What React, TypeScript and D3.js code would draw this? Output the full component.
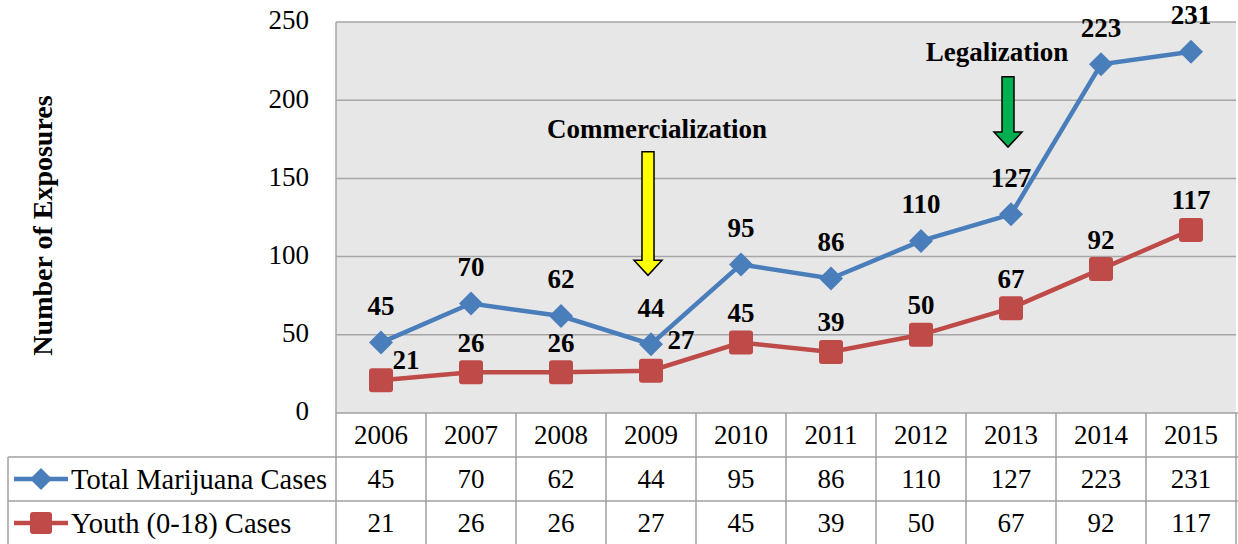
import { useMemo } from 'react'
import * as d3 from 'd3'

const years = ['2006', '2007', '2008', '2009', '2010', '2011', '2012', '2013', '2014', '2015']
const totalCases = [45, 70, 62, 44, 95, 86, 110, 127, 223, 231]
const youthCases = [21, 26, 26, 27, 45, 39, 50, 67, 92, 117]
const yTicks = [0, 50, 100, 150, 200, 250]
const seriesNames = ['Total Marijuana Cases', 'Youth (0-18) Cases']

// annotation arrows, in data units: arrow top, arrow tip, label centre
const annotations = [
	{ label: 'Commercialization', year: '2009', top: 167, tip: 88, text: 182, fill: '#ffff00' },
	{ label: 'Legalization', year: '2013', top: 215, tip: 170, text: 231, fill: '#00b050' },
]

const W = 1238
const H = 544
const margin = { top: 22, left: 336, right: 2, bottom: 131 }
const rowH = 44
const FONT = "'Liberation Serif', 'DejaVu Serif', serif"
const BLUE = '#4a7ebb'
const RED = '#be4b48'

function Diamond({ cx, cy, r = 12, fill }) {
	return <path d={`M${cx},${cy - r}L${cx + r},${cy}L${cx},${cy + r}L${cx - r},${cy}Z`} fill={fill} />
}

function Square({ cx, cy, s = 24, fill }) {
	return <rect x={cx - s / 2} y={cy - s / 2} width={s} height={s} rx={3} fill={fill} />
}

export default function App() {
	const plotBottom = H - margin.bottom
	const x = useMemo(() => d3.scaleBand(years, [margin.left, W - margin.right]), [])
	const y = useMemo(() => d3.scaleLinear([0, 250], [plotBottom, margin.top]), [])
	const cx = (yr) => x(yr) + x.bandwidth() / 2

	const line = d3.line().x((d, i) => cx(years[i])).y((d) => y(d))

	const tableTop = plotBottom
	const rows = [tableTop, tableTop + rowH, tableTop + 2 * rowH, tableTop + 3 * rowH]

	return (
		<svg width={W} height={H} style={{ position: 'absolute', left: 0, top: 0, background: '#fff', fontFamily: FONT }}>
			{/* plot area */}
			<rect x={margin.left} y={margin.top} width={W - margin.right - margin.left} height={plotBottom - margin.top} fill="#e7e7e7" />
			<g stroke="#a6a6a6" strokeWidth={1.5}>
				{yTicks.filter((t) => t > 0).map((t) => (
					<line key={t} x1={margin.left} x2={W - margin.right} y1={y(t)} y2={y(t)} />
				))}
				<line x1={margin.left} x2={margin.left} y1={margin.top} y2={plotBottom} />
			</g>
			<g style={{ fontSize: 27 }} textAnchor="end" fill="#000">
				{yTicks.map((t) => (
					<text key={t} x={309} y={y(t) - 2} dy="0.35em">{t}</text>
				))}
			</g>
			<text transform={`translate(42,${(margin.top + plotBottom) / 2 + 8}) rotate(-90)`} textAnchor="middle" dy="0.35em" style={{ fontSize: 28, fontWeight: 'bold' }}>Number of Exposures</text>

			{/* annotations */}
			{annotations.map((a) => {
				const ax = cx(a.year) - 3
				const top = y(a.top)
				const tip = y(a.tip)
				const headStart = tip - 15
				const sw = 6
				const hw = 14
				return (
					<g key={a.label}>
						<path d={`M${ax - sw},${top}L${ax + sw},${top}L${ax + sw},${headStart}L${ax + hw},${headStart}L${ax},${tip}L${ax - hw},${headStart}L${ax - sw},${headStart}Z`} fill={a.fill} stroke="#000" strokeWidth={1.5} />
						<text x={a.label === 'Legalization' ? ax - 11 : ax + 9} y={y(a.text)} dy="0.35em" textAnchor="middle" style={{ fontSize: 27, fontWeight: 'bold' }}>{a.label}</text>
					</g>
				)
			})}

			{/* series */}
			<path d={line(youthCases)} fill="none" stroke={RED} strokeWidth={4.5} />
			<path d={line(totalCases)} fill="none" stroke={BLUE} strokeWidth={4.5} />
			{youthCases.map((v, i) => <Square key={i} cx={cx(years[i])} cy={y(v)} fill={RED} />)}
			{totalCases.map((v, i) => <Diamond key={i} cx={cx(years[i])} cy={y(v)} fill={BLUE} />)}
			<g style={{ fontSize: 27, fontWeight: 'bold' }} textAnchor="middle">
				{totalCases.map((v, i) => (
					<text key={i} x={cx(years[i])} y={y(v) - 37} dy="0.35em">{v}</text>
				))}
				{youthCases.map((v, i) => {
					let dx = 0
					let dy = -30
					if (i === 0) { dx = 25; dy = -21 }
					if (i === 3) { dx = 30; dy = -31 }
					return <text key={i} x={cx(years[i]) + dx} y={y(v) + dy} dy="0.35em">{v}</text>
				})}
			</g>

			{/* data table */}
			<g stroke="#a0a0a0" strokeWidth={1.5} fill="none">
				<line x1={margin.left} x2={W} y1={rows[0]} y2={rows[0]} />
				<line x1={8} x2={W} y1={rows[1]} y2={rows[1]} />
				<line x1={8} x2={W} y1={rows[2]} y2={rows[2]} />
				<line x1={8} x2={8} y1={rows[1]} y2={rows[3]} />
				{years.map((yr) => (
					<line key={yr} x1={x(yr)} x2={x(yr)} y1={rows[0]} y2={rows[3]} />
				))}
				<line x1={W - margin.right} x2={W - margin.right} y1={rows[0]} y2={rows[3]} />
			</g>
			<g style={{ fontSize: 27 }} textAnchor="middle">
				{years.map((yr, i) => (
					<g key={yr}>
						<text x={cx(yr)} y={rows[0] + rowH / 2} dy="0.35em">{yr}</text>
						<text x={cx(yr)} y={rows[1] + rowH / 2} dy="0.35em">{totalCases[i]}</text>
						<text x={cx(yr)} y={rows[2] + rowH / 2} dy="0.35em">{youthCases[i]}</text>
					</g>
				))}
			</g>
			{seriesNames.map((name, i) => {
				const cy = rows[i + 1] + rowH / 2
				const color = i === 0 ? BLUE : RED
				return (
					<g key={name}>
						<line x1={14} x2={68} y1={cy} y2={cy} stroke={color} strokeWidth={4.5} />
						{i === 0 ? <Diamond cx={41} cy={cy} r={11} fill={color} /> : <Square cx={41} cy={cy} s={22} fill={color} />}
						<text x={71} y={cy} dy="0.35em" style={{ fontSize: 28.5 }}>{name}</text>
					</g>
				)
			})}
		</svg>
	)
}
